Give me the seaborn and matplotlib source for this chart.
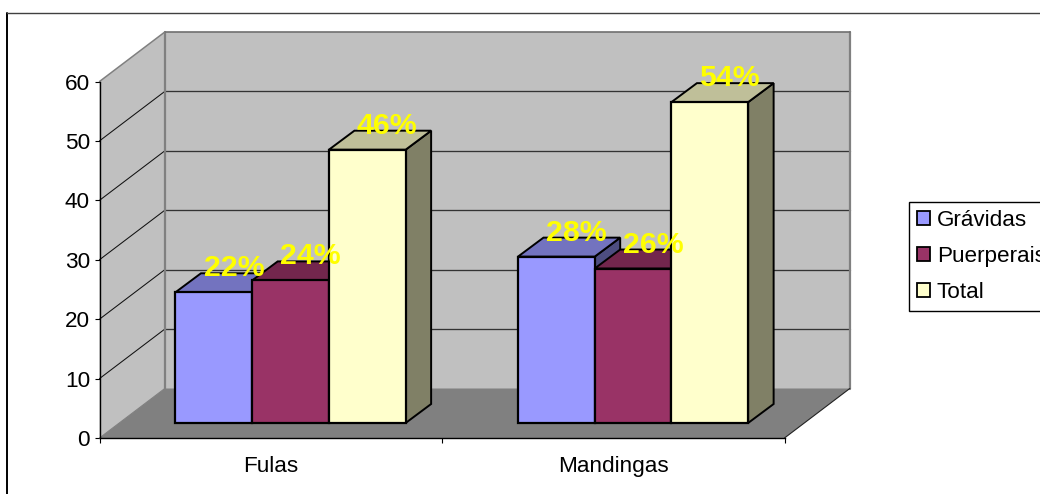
import matplotlib
matplotlib.use("Agg")
import matplotlib.pyplot as plt
import pandas as pd
import seaborn as sns
from matplotlib.colors import to_rgb
from matplotlib.lines import Line2D
from matplotlib.patches import Polygon, Rectangle
from matplotlib.transforms import Affine2D

# Chart data
groups = ["Fulas", "Mandingas"]
series = ["Grávidas", "Puerperais", "Total"]
gravidas = [22, 28]
puerperais = [24, 26]
total = [46, 54]
y_ticks = [0, 10, 20, 30, 40, 50, 60]

# Appearance
bar_colors = ["#9999FF", "#993366", "#FFFFCC"]
wall_color = "#C0C0C0"
floor_color = "#808080"
edge_gray = "#808080"

W, H = 1040, 494
# Oblique projection, all in pixels: the full box depth and the bars' position in it
BOX_DX, BOX_DY = 65.3, 49.5
BAR_PLANE_DX, BAR_PLANE_DY = 19.8, 15
BAR_DX, BAR_DY = 25.5, 19
AX_L, AX_B, AX_W, AX_H = 99.5, 56, 685, 356.5

sns.set_theme(style="white")
plt.rcParams["font.family"] = ["Liberation Sans", "DejaVu Sans"]
plt.rcParams["text.color"] = "black"

fig = plt.figure(figsize=(W / 100, H / 100), dpi=100, facecolor="white")
ax = fig.add_axes([AX_L / W, AX_B / H, AX_W / W, AX_H / H])
ax.patch.set_visible(False)

df = pd.DataFrame({
    "grupo": groups * 3,
    "serie": [s for s in series for _ in groups],
    "valor": gravidas + puerperais + total,
})
sns.barplot(data=df, x="grupo", y="valor", hue="serie", hue_order=series,
            palette=bar_colors, saturation=1, width=0.672, gap=0,
            edgecolor="black", linewidth=1.6, errorbar=None, ax=ax, legend=False)

ax.set_xlim(-0.5, 1.5)
ax.set_ylim(0, 60)
ax.set_xlabel("")
ax.set_ylabel("")

# Data units per pixel, used to step back into the depth of the box
ux = (ax.get_xlim()[1] - ax.get_xlim()[0]) / AX_W
uy = (ax.get_ylim()[1] - ax.get_ylim()[0]) / AX_H

back_plane = ax.transData + Affine2D().translate(BOX_DX, BOX_DY)
bar_plane = ax.transData + Affine2D().translate(BAR_PLANE_DX, BAR_PLANE_DY)

x0, x1 = ax.get_xlim()
ymax = y_ticks[-1]
bdx, bdy = BOX_DX * ux, BOX_DY * uy

# Walls and floor of the box
ax.add_patch(Polygon([(x0, 0), (x0 + bdx, bdy), (x0 + bdx, ymax + bdy), (x0, ymax)],
                     closed=True, fc=wall_color, ec="none", zorder=0.2, clip_on=False))
ax.add_patch(Rectangle((x0, 0), x1 - x0, ymax, transform=back_plane,
                       fc=wall_color, ec="none", zorder=0.2, clip_on=False))
ax.add_patch(Polygon([(x0, 0), (x1, 0), (x1 + bdx, bdy), (x0 + bdx, bdy)],
                     closed=True, fc=floor_color, ec="none", zorder=0.3, clip_on=False))

# Gridlines run along the side wall and across the back wall
for v in y_ticks[1:-1]:
    ax.plot([x0, x0 + bdx], [v, v + bdy], color="#111111", lw=0.75, zorder=0.5, clip_on=False)
    ax.plot([x0, x1], [v, v], color="#333333", lw=0.95, zorder=0.5, clip_on=False, transform=back_plane)

# Box outline
ax.plot([x0, x0], [0, ymax], color=edge_gray, lw=1.6, zorder=0.6, clip_on=False, transform=back_plane)
ax.plot([x1, x1], [0, ymax], color=edge_gray, lw=1.6, zorder=0.6, clip_on=False, transform=back_plane)
ax.plot([x0, x1], [ymax, ymax], color="#707070", lw=1.2, zorder=0.6, clip_on=False, transform=back_plane)
ax.plot([x0, x0 + bdx], [ymax, ymax + bdy], color=edge_gray, lw=1.1, zorder=0.6, clip_on=False)
ax.plot([x0, x0 + bdx], [0, bdy], color=edge_gray, lw=0.8, zorder=0.6, clip_on=False)
ax.plot([x1, x1 + bdx], [0, bdy], color="#222222", lw=0.8, zorder=0.6, clip_on=False)


def shade(color, factor):
    return tuple(c * factor for c in to_rgb(color))


# Each bar gets a top and a side face; later bars overlap earlier ones
dx, dy = BAR_DX * ux, BAR_DY * uy
label_items = []
for s_idx, container in enumerate(ax.containers):
    color = bar_colors[s_idx]
    for g_idx, bar in enumerate(container):
        left, right = bar.get_x(), bar.get_x() + bar.get_width()
        top = bar.get_height()
        z = 2 + g_idx * 3 + s_idx * 0.3
        bar.set_transform(bar_plane)
        bar.set_clip_on(False)
        bar.set_zorder(z + 0.2)
        ax.add_patch(Polygon([(right, 0), (right + dx, dy), (right + dx, top + dy), (right, top)],
                             closed=True, fc=shade(color, 0.5), ec="black", lw=1.4,
                             transform=bar_plane, zorder=z, clip_on=False))
        ax.add_patch(Polygon([(left, top), (left + dx, top + dy), (right + dx, top + dy), (right, top)],
                             closed=True, fc=shade(color, 0.75), ec="black", lw=1.4,
                             transform=bar_plane, zorder=z + 0.1, clip_on=False))
        label_items.append(((left + right) / 2, top))

# Percentage labels
for cx, top in label_items:
    ax.annotate(f"{top:.0f}%", xy=(cx, top), xycoords=bar_plane,
                xytext=(20 * 0.72, 16 * 0.72), textcoords="offset points",
                ha="center", va="baseline", fontsize=21.8, fontweight="bold",
                color="#FFFF00", zorder=20, annotation_clip=False)

# Axes: spines and ticks on the front plane of the box
for side in ("top", "right"):
    ax.spines[side].set_visible(False)
for side in ("left", "bottom"):
    ax.spines[side].set_visible(True)
    ax.spines[side].set_color("black")
    ax.spines[side].set_linewidth(1.0)
    ax.spines[side].set_zorder(1)

ax.set_yticks(y_ticks)
ax.set_yticklabels([str(v) for v in y_ticks])
ax.tick_params(axis="y", left=True, length=3.8, width=0.8, color="black",
               labelsize=16.2, pad=3, labelcolor="black")
ax.set_xticks([-0.5, 0.5, 1.5])
ax.set_xticklabels([])
ax.set_xticks([0, 1], labels=groups, minor=True)
ax.tick_params(axis="x", which="major", bottom=True, length=3.8, width=0.8, color="black")
ax.tick_params(axis="x", which="minor", bottom=False, length=0, labelsize=16.2, pad=13, labelcolor="black")

# Legend, running off the right edge of the canvas
handles = [c[0] for c in ax.containers]
leg = fig.legend(handles, series, loc="upper left",
                 bbox_to_anchor=(909 / W, (H - 202) / H), borderaxespad=0,
                 fontsize=16.2, frameon=True, fancybox=False, framealpha=1,
                 edgecolor="black", handlelength=0.58, handleheight=0.58,
                 handletextpad=0.31, labelspacing=0.68, borderpad=0.34)
leg.get_frame().set_linewidth(1.0)
for h in leg.legend_handles:
    h.set_edgecolor("black")
    h.set_linewidth(1.3)

# Outer chart frame, open towards the canvas edges
fig.add_artist(Line2D([7 / W, 7 / W], [0, (H - 13) / H], color="black", lw=1.4))
fig.add_artist(Line2D([7 / W, 1], [(H - 13) / H, (H - 13) / H], color="#404040", lw=1.0))

fig.savefig("out.png", dpi=100, facecolor="white")
